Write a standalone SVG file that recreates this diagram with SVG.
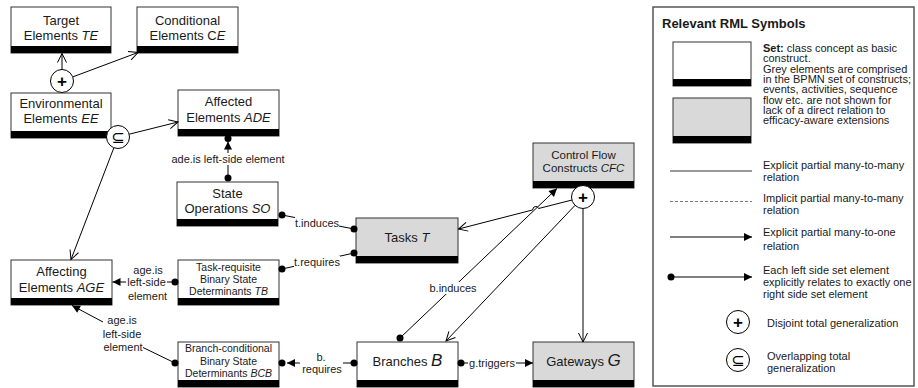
<svg xmlns="http://www.w3.org/2000/svg" width="918" height="388" viewBox="0 0 918 388">
<defs>
<style>
text{font-family:"Liberation Sans",Arial,sans-serif;fill:#1a1a1a}
.box{fill:#fff;stroke:#333;stroke-width:1}
.grey{fill:#d9d9d9}
.bar{fill:#000}
.n{font-size:13px;text-anchor:middle}
.s{font-size:10.5px;text-anchor:middle}
.c{font-size:11.5px;text-anchor:middle}
.lbl{font-size:11px;text-anchor:middle}
.lg{font-size:11px}
.ln{stroke:#000;stroke-width:1;fill:none}
.bg{fill:#fff}
.circ{fill:#fff;stroke:#000;stroke-width:1}
.plus{font-size:17px;font-weight:bold;text-anchor:middle;dominant-baseline:central;fill:#000}
.sub{font-family:"DejaVu Sans",sans-serif;font-size:16px;text-anchor:middle;dominant-baseline:central;fill:#000}
.it{font-style:italic}
</style>
<marker id="open" markerUnits="userSpaceOnUse" markerWidth="10" markerHeight="10" refX="9" refY="4.5" orient="auto" overflow="visible"><path d="M0,0 L9,4.5 L0,9" fill="none" stroke="#000" stroke-width="1"/></marker>
<marker id="arr" markerUnits="userSpaceOnUse" markerWidth="9" markerHeight="9" refX="8" refY="4" orient="auto" overflow="visible"><path d="M0,0 L8,4 L0,8 Z" fill="#000"/></marker>
<marker id="dot" markerUnits="userSpaceOnUse" markerWidth="8" markerHeight="8" refX="0" refY="0" overflow="visible"><circle r="3.5" fill="#000"/></marker>
</defs>
<rect width="918" height="388" fill="#fff"/>

<g id="TE"><rect class="box" x="11" y="7" width="100" height="46"/><rect class="bar" x="11" y="46" width="100" height="7"/><text class="n" x="61" y="24.5">Target</text><text class="n" x="61" y="39.5">Elements <tspan class="it">TE</tspan></text></g>
<g id="CE"><rect class="box" x="137" y="7" width="101" height="46"/><rect class="bar" x="137" y="46" width="101" height="7"/><text class="n" x="187.5" y="24.5">Conditional</text><text class="n" x="187.5" y="39.5">Elements C<tspan class="it">E</tspan></text></g>
<g id="EE"><rect class="box" x="11" y="93" width="100" height="45"/><rect class="bar" x="11" y="131" width="100" height="7"/><text class="n" x="61" y="107.5">Environmental</text><text class="n" x="61" y="122.5">Elements <tspan class="it">EE</tspan></text></g>
<g id="ADE"><rect class="box" x="178" y="90" width="101" height="46"/><rect class="bar" x="178" y="129" width="101" height="7"/><text class="n" x="228.5" y="105.5">Affected</text><text class="n" x="228.5" y="121.5">Elements <tspan class="it">ADE</tspan></text></g>
<g id="SO"><rect class="box" x="177" y="182" width="101" height="44"/><rect class="bar" x="177" y="219" width="101" height="7"/><text class="n" x="227.5" y="197.5">State</text><text class="n" x="227.5" y="212.5">Operations <tspan class="it">SO</tspan></text></g>
<g id="AGE"><rect class="box" x="11" y="260" width="101" height="45"/><rect class="bar" x="11" y="298" width="101" height="7"/><text class="n" x="61.5" y="275.5">Affecting</text><text class="n" x="61.5" y="291.5">Elements <tspan class="it">AGE</tspan></text></g>
<g id="TB"><rect class="box" x="178" y="260" width="101" height="45"/><rect class="bar" x="178" y="298" width="101" height="7"/><text class="s" x="228.5" y="270.7">Task-requisite</text><text class="s" x="228.5" y="282.7">Binary State</text><text class="s" x="228.5" y="294.7">Determinants <tspan class="it">TB</tspan></text></g>
<g id="BCB"><rect class="box" x="178" y="342" width="101" height="45"/><rect class="bar" x="178" y="380" width="101" height="7"/><text class="s" x="228.5" y="351.7">Branch-conditional</text><text class="s" x="228.5" y="364.7">Binary State</text><text class="s" x="228.5" y="376.7">Determinants <tspan class="it">BCB</tspan></text></g>
<g id="T"><rect class="box grey" x="356" y="218" width="102" height="45"/><rect class="bar" x="356" y="256" width="102" height="7"/><text class="n" x="407" y="242" font-size="14">Tasks <tspan class="it">T</tspan></text></g>
<g id="CFC"><rect class="box grey" x="533" y="143" width="101" height="45"/><rect class="bar" x="533" y="181" width="101" height="7"/><text class="c" x="583.5" y="159">Control Flow</text><text class="c" x="583.5" y="172">Constructs <tspan class="it">CFC</tspan></text></g>
<g id="B"><rect class="box" x="357" y="342" width="101" height="45"/><rect class="bar" x="357" y="380" width="101" height="7"/><text class="n" x="407.5" y="365.5">Branches <tspan class="it" font-size="17">B</tspan></text></g>
<g id="G"><rect class="box grey" x="533" y="342" width="101" height="45"/><rect class="bar" x="533" y="380" width="101" height="7"/><text class="n" x="583.5" y="365.5">Gateways <tspan class="it" font-size="17">G</tspan></text></g>

<g id="connectors">
<line class="ln" x1="62" y1="69.5" x2="62" y2="53.5" marker-end="url(#open)"/>
<line class="ln" x1="72.8" y1="76.9" x2="138" y2="52.5" marker-end="url(#open)"/>
<line class="ln" x1="129.2" y1="134.2" x2="178" y2="122" marker-end="url(#open)"/>
<line class="ln" x1="113.9" y1="147.7" x2="71" y2="259.5" marker-end="url(#open)"/>
<line class="ln" x1="228" y1="178" x2="228" y2="141.5" marker-start="url(#dot)" marker-end="url(#arr)"/>
<circle cx="228" cy="138.5" r="3.5" fill="#000"/>
<line class="ln" x1="282" y1="215" x2="354" y2="229" marker-start="url(#dot)" marker-end="url(#dot)"/>
<line class="ln" x1="282" y1="269" x2="354" y2="253" marker-start="url(#dot)" marker-end="url(#dot)"/>
<line class="ln" x1="175" y1="282" x2="112.5" y2="282" marker-start="url(#dot)" marker-end="url(#arr)"/>
<line class="ln" x1="175" y1="363" x2="143" y2="347.5" marker-start="url(#dot)"/>
<line class="ln" x1="103" y1="322" x2="72" y2="305.5" marker-end="url(#arr)"/>
<line class="ln" x1="354" y1="363" x2="287" y2="363" marker-start="url(#dot)" marker-end="url(#arr)"/>
<circle cx="282" cy="363" r="3.5" fill="#000"/>
<line class="ln" x1="461" y1="363" x2="533" y2="363" marker-start="url(#dot)" marker-end="url(#arr)"/>
<line class="ln" x1="400" y1="338" x2="557" y2="188.5" marker-start="url(#dot)" marker-end="url(#arr)"/>
<path class="ln" d="M572,200 L538.6,208.5 A3,3 0 0 0 532.8,209.9 L458.5,229" marker-end="url(#open)"/>
<line class="ln" x1="575.1" y1="205.3" x2="446" y2="341" marker-end="url(#open)"/>
<line class="ln" x1="583" y1="208.5" x2="583" y2="342" marker-end="url(#open)"/>

<rect class="bg" x="170" y="153" width="117" height="12"/>
<text class="lbl" x="228" y="163">ade.is left-side element</text>
<rect class="bg" x="295" y="216" width="44" height="12"/>
<text class="lbl" x="317" y="226.5">t.induces</text>
<rect class="bg" x="294" y="256" width="46" height="12"/>
<text class="lbl" x="317" y="266">t.requires</text>
<text class="lbl" x="148" y="274">age.is</text>
<rect class="bg" x="126" y="276" width="41" height="12"/>
<text class="lbl" x="146.5" y="286">left-side</text>
<text class="lbl" x="147.5" y="299.5">element</text>
<text class="lbl" x="122" y="324">age.is</text>
<text class="lbl" x="122" y="338">left-side</text>
<text class="lbl" x="123" y="351">element</text>
<rect class="bg" x="300" y="351" width="43" height="24"/>
<text class="lbl" x="321" y="361">b.</text>
<text class="lbl" x="322" y="373">requires</text>
<rect class="bg" x="468" y="357" width="48" height="12"/>
<text class="lbl" x="492" y="367">g.triggers</text>
<rect class="bg" x="429" y="282" width="48" height="12"/>
<text class="lbl" x="453" y="292">b.induces</text>

<circle class="circ" cx="62" cy="81" r="11.5"/><text class="plus" x="62" y="81">+</text>
<circle class="circ" cx="118" cy="137" r="11.5"/><text class="sub" x="118" y="137">⊆</text>
<circle class="circ" cx="583" cy="197" r="11.5"/><text class="plus" x="583" y="197">+</text>
</g>

<g id="legend">
<rect x="653" y="7" width="261" height="379" fill="#fff" stroke="#555" stroke-width="1.5"/>
<text x="662" y="27.5" font-size="13" font-weight="bold">Relevant RML Symbols</text>
<rect class="box" x="673" y="42" width="78" height="44"/><rect class="bar" x="673" y="79" width="78" height="7"/>
<rect class="box grey" x="673" y="98" width="78" height="45"/><rect class="bar" x="673" y="136" width="78" height="7"/>
<text class="lg" x="763" y="52"><tspan font-weight="bold">Set:</tspan> class concept as basic</text>
<text class="lg" x="763" y="62.3">construct.</text>
<text class="lg" x="763" y="72.6">Grey elements are comprised</text>
<text class="lg" x="763" y="83">in the BPMN set of constructs;</text>
<text class="lg" x="763" y="93.3">events, activities, sequence</text>
<text class="lg" x="763" y="103.6">flow etc. are not shown for</text>
<text class="lg" x="763" y="114">lack of a direct relation to</text>
<text class="lg" x="763" y="124.3">efficacy-aware extensions</text>
<line x1="670" y1="171" x2="752" y2="171" stroke="#777" stroke-width="1.5"/>
<text class="lg" x="763" y="169">Explicit partial many-to-many</text>
<text class="lg" x="763" y="181">relation</text>
<line x1="670" y1="201.5" x2="752" y2="201.5" stroke="#777" stroke-width="1" stroke-dasharray="3,2"/>
<text class="lg" x="763" y="202.3">Implicit partial many-to-many</text>
<text class="lg" x="763" y="214">relation</text>
<line class="ln" x1="670" y1="237" x2="752" y2="237" marker-end="url(#arr)"/>
<text class="lg" x="763" y="235.7">Explicit partial many-to-one</text>
<text class="lg" x="763" y="249.7">relation</text>
<line class="ln" x1="671" y1="277" x2="752" y2="277" marker-start="url(#dot)" marker-end="url(#arr)"/>
<text class="lg" x="763" y="274">Each left side set element</text>
<text class="lg" x="763" y="285.5">explicitly relates to exactly one</text>
<text class="lg" x="763" y="297.5">right side set element</text>
<circle class="circ" cx="738" cy="322" r="11.5"/><text class="plus" x="738" y="322">+</text>
<text class="lg" x="767" y="326.5">Disjoint total generalization</text>
<circle class="circ" cx="738" cy="360" r="11.5"/><text class="sub" x="738" y="360">⊆</text>
<text class="lg" x="767" y="360">Overlapping total</text>
<text class="lg" x="767" y="371.5">generalization</text>
</g>
</svg>
